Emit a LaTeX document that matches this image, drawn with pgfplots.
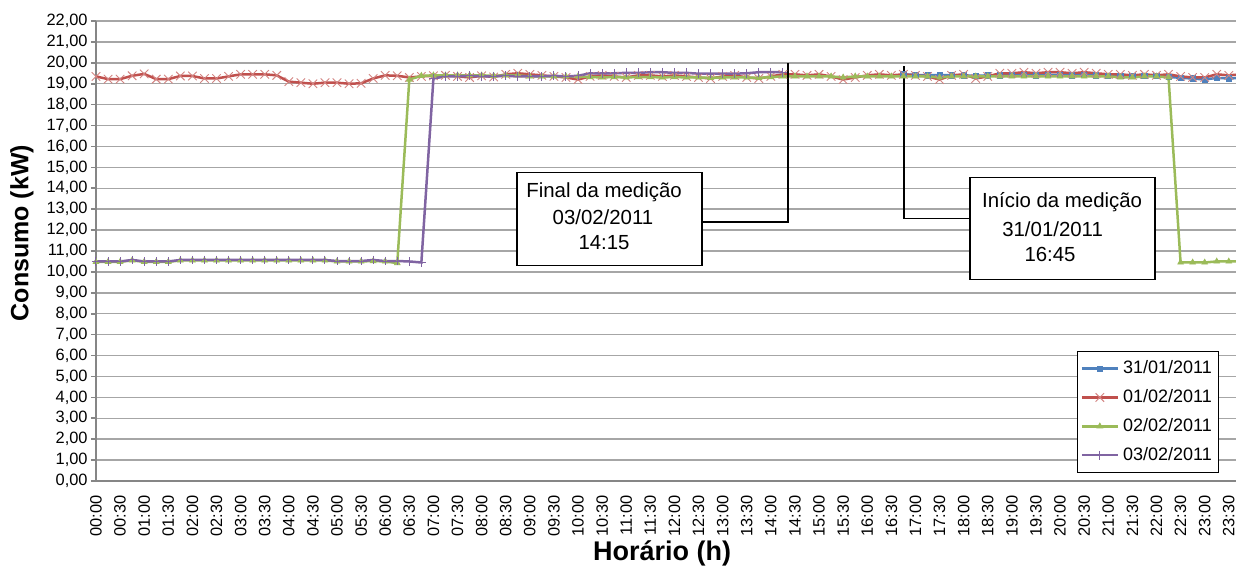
\documentclass[border=0pt]{standalone}
\usepackage{fontspec}
\setmainfont{Liberation Sans}
\usepackage{pgfplots}
\usepackage{pgfplotstable}
\pgfplotsset{compat=1.18}

\definecolor{s1}{HTML}{4F81BD}
\definecolor{s2}{HTML}{C0504D}
\definecolor{s3}{HTML}{9BBB59}
\definecolor{s4}{HTML}{8064A2}
\definecolor{gridc}{HTML}{A6A6A6}
\definecolor{axisc}{HTML}{868686}

% k = index of the 15-minute interval (0 = 00:00, 95 = 23:45)
\pgfplotstableread{
k v
67 19.45
68 19.42
69 19.40
70 19.42
71 19.40
72 19.40
73 19.38
74 19.40
75 19.40
76 19.42
77 19.42
78 19.40
79 19.42
80 19.42
81 19.40
82 19.42
83 19.40
84 19.38
85 19.38
86 19.38
87 19.38
88 19.38
89 19.33
90 19.28
91 19.25
92 19.20
93 19.28
94 19.25
95 19.28
}\dayA

\pgfplotstableread{
k v
0 19.35
1 19.22
2 19.22
3 19.38
4 19.47
5 19.22
6 19.22
7 19.37
8 19.37
9 19.25
10 19.25
11 19.35
12 19.45
13 19.45
14 19.45
15 19.40
16 19.10
17 19.05
18 19.00
19 19.05
20 19.05
21 19.00
22 19.02
23 19.25
24 19.40
25 19.38
26 19.30
27 19.35
28 19.38
29 19.40
30 19.35
31 19.30
32 19.38
33 19.32
34 19.45
35 19.50
36 19.45
37 19.40
38 19.35
39 19.30
40 19.20
41 19.35
42 19.40
43 19.35
44 19.30
45 19.40
46 19.40
47 19.35
48 19.40
49 19.35
50 19.30
51 19.25
52 19.35
53 19.40
54 19.30
55 19.25
56 19.35
57 19.45
58 19.45
59 19.40
60 19.45
61 19.35
62 19.20
63 19.30
64 19.40
65 19.45
66 19.40
67 19.45
68 19.40
69 19.35
70 19.20
71 19.40
72 19.45
73 19.25
74 19.35
75 19.50
76 19.50
77 19.55
78 19.50
79 19.55
80 19.55
81 19.50
82 19.55
83 19.50
84 19.45
85 19.45
86 19.40
87 19.45
88 19.40
89 19.45
90 19.35
91 19.30
92 19.30
93 19.45
94 19.40
95 19.45
}\dayB

\pgfplotstableread{
k v
0 10.48
1 10.48
2 10.48
3 10.55
4 10.48
5 10.48
6 10.48
7 10.55
8 10.55
9 10.55
10 10.55
11 10.55
12 10.55
13 10.55
14 10.55
15 10.55
16 10.55
17 10.55
18 10.55
19 10.55
20 10.50
21 10.50
22 10.50
23 10.52
24 10.50
25 10.42
26 19.20
27 19.38
28 19.40
29 19.40
30 19.40
31 19.40
32 19.40
33 19.38
34 19.40
35 19.40
36 19.35
37 19.35
38 19.35
39 19.35
40 19.35
41 19.32
42 19.30
43 19.32
44 19.30
45 19.32
46 19.32
47 19.30
48 19.32
49 19.30
50 19.30
51 19.28
52 19.30
53 19.30
54 19.30
55 19.28
56 19.32
57 19.35
58 19.35
59 19.35
60 19.35
61 19.35
62 19.30
63 19.35
64 19.35
65 19.35
66 19.35
67 19.35
68 19.35
69 19.35
70 19.30
71 19.35
72 19.35
73 19.35
74 19.35
75 19.35
76 19.35
77 19.35
78 19.35
79 19.35
80 19.35
81 19.35
82 19.35
83 19.35
84 19.35
85 19.30
86 19.30
87 19.35
88 19.35
89 19.30
90 10.45
91 10.45
92 10.45
93 10.50
94 10.50
95 10.50
}\dayC

\pgfplotstableread{
k v
0 10.50
1 10.50
2 10.50
3 10.57
4 10.50
5 10.50
6 10.50
7 10.57
8 10.57
9 10.57
10 10.57
11 10.57
12 10.57
13 10.57
14 10.57
15 10.57
16 10.57
17 10.57
18 10.57
19 10.57
20 10.52
21 10.52
22 10.52
23 10.57
24 10.52
25 10.52
26 10.50
27 10.45
28 19.25
29 19.35
30 19.35
31 19.38
32 19.35
33 19.35
34 19.38
35 19.35
36 19.35
37 19.35
38 19.38
39 19.35
40 19.38
41 19.50
42 19.50
43 19.50
44 19.52
45 19.52
46 19.55
47 19.55
48 19.52
49 19.52
50 19.48
51 19.48
52 19.48
53 19.48
54 19.50
55 19.55
56 19.55
57 19.55
}\dayD

\begin{document}
\begin{tikzpicture}
\begin{axis}[
  scale only axis,
  width=570pt, height=230pt,
  at={(0,0)}, anchor=south west,
  xmin=0, xmax=94.6,
  ymin=0, ymax=22,
  clip=false,
  axis lines*=left,
  axis line style={axisc, line width=0.8pt},
  ymajorgrids,
  grid style={gridc, line width=0.75pt},
  ytick={0,1,...,22},
  tick align=outside,
  major tick length=2.5pt,
  ytick style={axisc, line width=0.8pt},
  xtick style={draw=none},
  xtick={0,2,...,94},
  xticklabels={00:00,00:30,01:00,01:30,02:00,02:30,03:00,03:30,04:00,04:30,05:00,05:30,06:00,06:30,07:00,07:30,08:00,08:30,09:00,09:30,10:00,10:30,11:00,11:30,12:00,12:30,13:00,13:30,14:00,14:30,15:00,15:30,16:00,16:30,17:00,17:30,18:00,18:30,19:00,19:30,20:00,20:30,21:00,21:30,22:00,22:30,23:00,23:30},
  xticklabel style={rotate=90, anchor=east, inner sep=0pt, xshift=-4.5pt,
    font=\fontsize{8.2}{9}\selectfont},
  yticklabel style={inner sep=1.5pt, font=\fontsize{8.2}{9}\selectfont},
  yticklabel={\pgfmathprintnumber[fixed, fixed zerofill, precision=2, use comma, assume math mode=true]{\tick}},
  xlabel={Horário (h)},
  ylabel={Consumo (kW)},
  xlabel style={at={(axis description cs:0.4965,-0.158)}, anchor=center,
    font=\bfseries\fontsize{13.5}{15}\selectfont},
  ylabel style={at={(axis description cs:-0.0649,0.539)}, anchor=center,
    font=\bfseries\fontsize{12.5}{14}\selectfont},
  legend style={at={(axis description cs:0.8605,0.2826)}, anchor=north west,
    draw=black, line width=0.6pt, fill=white,
    font=\fontsize{9}{10}\selectfont,
    row sep=2.4pt, inner xsep=1.5pt, inner ysep=2.5pt},
  legend cell align=left,
  legend image code/.code={
    \draw[#1, mark=none] (0pt,0pt) -- (18pt,0pt);
    \draw[#1, only marks] plot coordinates {(9pt,0pt)};
  },
]
\addplot[s1, line width=1.25pt, mark=square*, mark size=1.3pt,
  mark options={solid, fill=s1, line width=0.4pt}] table[x=k, y=v] {\dayA};
\addlegendentry{31/01/2011}
\addplot[s2, line width=1.25pt, mark=x, mark size=3pt,
  mark options={solid, line width=0.45pt, draw=s2!70!white}] table[x=k, y=v] {\dayB};
\addlegendentry{01/02/2011}
\addplot[s3, line width=1.25pt, mark=triangle*, mark size=1.6pt,
  mark options={solid, fill=s3, line width=0.4pt}] table[x=k, y=v] {\dayC};
\addlegendentry{02/02/2011}
\addplot[s4, line width=1.25pt, mark=+, mark size=2.2pt,
  mark options={solid, line width=0.5pt}] table[x=k, y=v] {\dayD};
\addlegendentry{03/02/2011}

% end of the measurement (03/02/2011 14:15)
\draw[black, line width=0.6pt] (axis cs:50.29,12.39) -| (axis cs:57.43,20.0);
\draw[black, line width=0.6pt, fill=white] (axis cs:34.94,10.29) rectangle (axis cs:50.29,14.74);
\node[font=\fontsize{10.2}{12}\selectfont, inner sep=0pt] at (axis cs:42.16,13.83) {Final da medição};
\node[font=\fontsize{10.2}{12}\selectfont, inner sep=0pt] at (axis cs:42.07,12.63) {03/02/2011};
\node[font=\fontsize{10.2}{12}\selectfont, inner sep=0pt] at (axis cs:42.16,11.39) {14:15};

% start of the measurement (31/01/2011 16:45)
\draw[black, line width=0.6pt] (axis cs:72.53,12.54) -| (axis cs:67.05,19.86);
\draw[black, line width=0.6pt, fill=white] (axis cs:72.53,9.62) rectangle (axis cs:87.88,14.5);
\node[font=\fontsize{10.2}{12}\selectfont, inner sep=0pt] at (axis cs:80.17,13.35) {Início da medição};
\node[font=\fontsize{10.2}{12}\selectfont, inner sep=0pt] at (axis cs:79.38,12.06) {31/01/2011};
\node[font=\fontsize{10.2}{12}\selectfont, inner sep=0pt] at (axis cs:79.17,10.81) {16:45};
\end{axis}
\pgfresetboundingbox
\path[use as bounding box] (-48pt,-43pt) rectangle (570pt,240.5pt);
\end{tikzpicture}
\end{document}
